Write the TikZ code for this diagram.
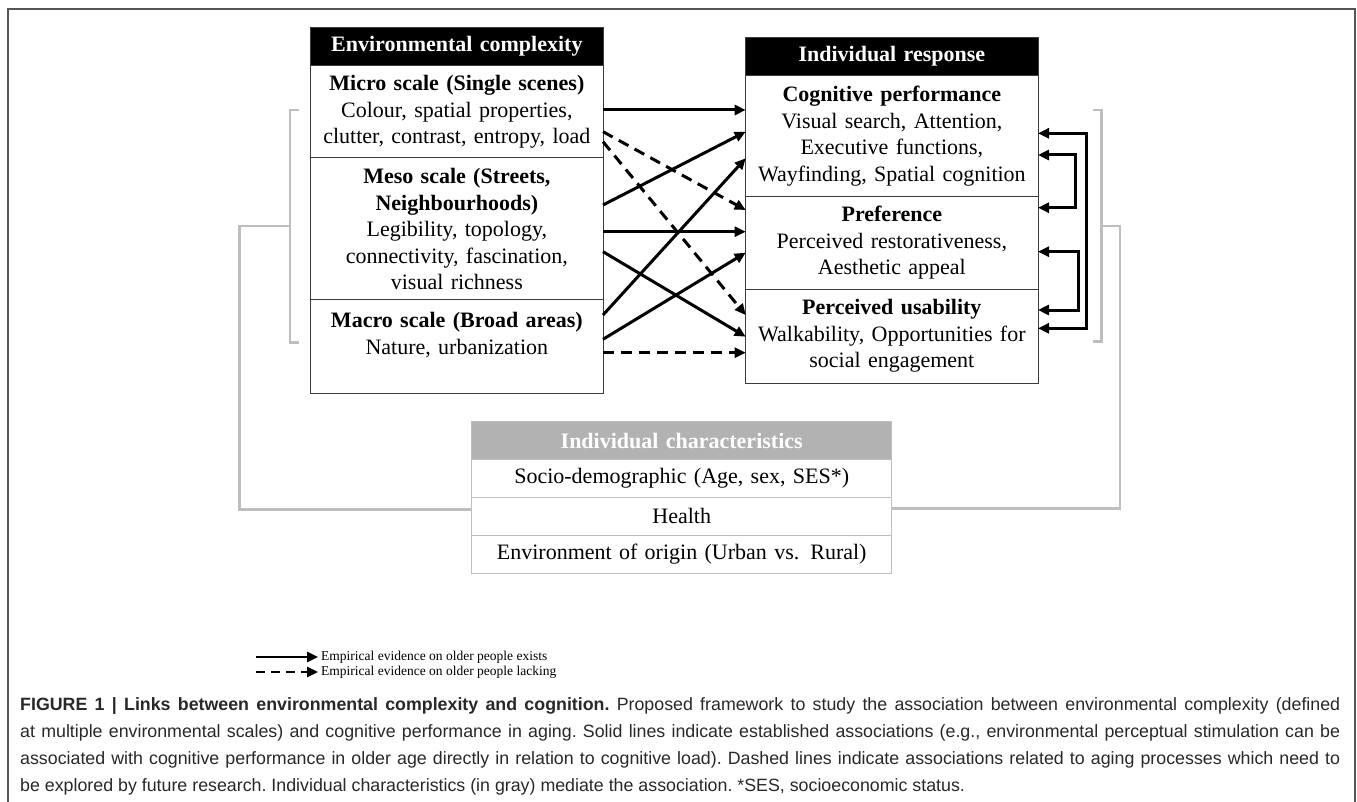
\documentclass[tikz,border=0pt]{standalone}
\usepackage{fontspec}
\setmainfont{Liberation Serif}
\newfontfamily\capfont{Liberation Sans}
\usetikzlibrary{positioning}
\usetikzlibrary{arrows.meta}

\definecolor{boxline}{RGB}{60,60,60}
\definecolor{mediate}{RGB}{190,190,190}
\definecolor{medhead}{RGB}{178,178,178}
\definecolor{frameline}{RGB}{85,85,85}
\definecolor{captext}{RGB}{40,40,40}

\tikzset{
  cell/.style={draw=boxline, line width=1pt, outer sep=0pt, text width=284.3pt, inner xsep=4pt, inner ysep=0pt, align=center, font=\fontsize{22}{26.5}\selectfont},
  headcell/.style={cell, fill=black, text=white, font=\bfseries\fontsize{22}{26.5}\selectfont, minimum height=38.4pt},
  greycell/.style={cell, draw=mediate, text width=412pt, minimum height=37.9pt},
  greyhead/.style={greycell, fill=medhead, text=white, font=\bfseries\fontsize{22}{26.5}\selectfont},
  assoc/.style={line width=3pt, -{Triangle[length=11pt,width=10pt]}},
  gapassoc/.style={assoc, dash pattern=on 11pt off 7pt},
  feedback/.style={line width=3pt, {Triangle[length=11pt,width=10pt]}-{Triangle[length=11pt,width=10pt]}},
  medline/.style={mediate, line width=2.8pt},
  legtext/.style={inner xsep=3pt, inner ysep=0pt, font=\fontsize{13.5}{15}\selectfont},
  captionbox/.style={inner sep=0pt, text width=1320pt, align=justify, text=captext, font=\capfont\fontsize{17.8}{27}\selectfont\frenchspacing},
}

\begin{document}
\begin{tikzpicture}[x=1pt, y=-1pt]
    \useasboundingbox (0,0) rectangle (1357,802);
    \draw[frameline, line width=2pt] (8,810) -- (8,9) -- (1355,9) -- (1355,810); % outer frame, open at the bottom

    % environmental complexity (left column)
    \node[headcell, anchor=north west] (env) at (310.7,27.3) {Environmental complexity};
    \node[cell, minimum height=92.3pt, below=0pt of env] (micro) {\textbf{Micro scale (Single scenes)}\\Colour, spatial properties,\\clutter, contrast, entropy, load};
    \node[cell, minimum height=142pt, below=0pt of micro] (meso) {\textbf{Meso scale (Streets,}\\\textbf{Neighbourhoods)}\\Legibility, topology,\\connectivity, fascination,\\visual richness};
    \node[cell, minimum height=93.3pt, below=0pt of meso] (macro) {\textbf{Macro scale (Broad areas)}\\Nature, urbanization\\\mbox{}};

    % individual response (right column)
    \node[headcell, anchor=north west] (resp) at (745.7,37.3) {Individual response};
    \node[cell, minimum height=121pt, below=0pt of resp] (cog) {\textbf{Cognitive performance}\\Visual search, Attention,\\Executive functions,\\Wayfinding, Spatial cognition};
    \node[cell, minimum height=92.6pt, below=0pt of cog] (pref) {\textbf{Preference}\\Perceived restorativeness,\\Aesthetic appeal};
    \node[cell, minimum height=93.7pt, below=0pt of pref] (usab) {\textbf{Perceived usability}\\Walkability, Opportunities for\\social engagement};

    % individual characteristics (grey, mediating)
    \node[greyhead, anchor=north west] (traits) at (471.7,421.7) {Individual characteristics};
    \node[greycell, below=0pt of traits] (socio) {Socio-demographic (Age, sex, SES*)};
    \node[greycell, below=0pt of socio] (health) {Health};
    \node[greycell, below=0pt of health] (origin) {Environment of origin (Urban vs. Rural)};

    % associations, left to right
    \draw[assoc] (micro.east |- 0,110) -- (cog.west |- 0,110);
    \draw[gapassoc] (micro.east |- 0,131.7) -- (pref.west |- 0,210);
    \draw[gapassoc] (micro.east |- 0,141.7) -- (usab.west |- 0,315);
    \draw[assoc] (meso.east |- 0,205) -- (cog.west |- 0,131.7);
    \draw[assoc] (meso.east |- 0,231.7) -- (pref.west |- 0,231.7);
    \draw[assoc] (meso.east |- 0,251.7) -- (usab.west |- 0,336.7);
    \draw[assoc] (macro.east |- 0,315) -- (cog.west |- 0,158.3);
    \draw[assoc] (macro.east |- 0,339.3) -- (pref.west |- 0,252.7);
    \draw[gapassoc] (macro.east |- 0,352.7) -- (usab.west |- 0,352.7);

    % feedback between the responses
    \draw[feedback] (cog.east |- 0,133.3) -- ++(48,0) |- (usab.east |- 0,328.3);
    \draw[feedback] (cog.east |- 0,155) -- ++(37,0) |- (pref.east |- 0,207.7);
    \draw[feedback] (pref.east |- 0,251.7) -- ++(40,0) |- (usab.east |- 0,310);

    % grey brackets joining the characteristics
    \coordinate (lmid) at (290,226);
    \coordinate (rmid) at (1101.7,226);
    \draw[medline] (299.3,110) -- (290,110) -- (290,342.7) -- (299.3,342.7);
    \draw[medline] (1093,110) -- (1101.7,110) -- (1101.7,341.7) -- (1093,341.7);
    \draw[medline] (lmid) -- (239.3,226) |- ([yshift=6.7pt]health.west);
    \draw[medline] (rmid) -- (1120,226) |- ([yshift=8pt]health.east);

    % legend
    \node[legtext, anchor=west] (legsolid) at (318,657) {Empirical evidence on older people exists};
    \node[legtext, anchor=west] (legdash) at (318,672) {Empirical evidence on older people lacking};
    \draw[assoc, line width=2.5pt] ([xshift=-62pt]legsolid.west) -- (legsolid.west);
    \draw[gapassoc, line width=2.5pt, dash pattern=on 9pt off 6pt] ([xshift=-62pt]legdash.west) -- (legdash.west);

    % caption
    \node[captionbox, anchor=north west] (caption) at (20,697) {\textbf{FIGURE 1 | Links between environmental complexity and cognition.} Proposed framework to study the association between environmental complexity (defined\linebreak at multiple environmental scales) and cognitive performance in aging. Solid lines indicate established associations (e.g., environmental perceptual stimulation can be\linebreak associated with cognitive performance in older age directly in relation to cognitive load). Dashed lines indicate associations related to aging processes which need to\linebreak be explored by future research. Individual characteristics (in gray) mediate the association. *SES, socioeconomic status.};
\end{tikzpicture}
\end{document}
